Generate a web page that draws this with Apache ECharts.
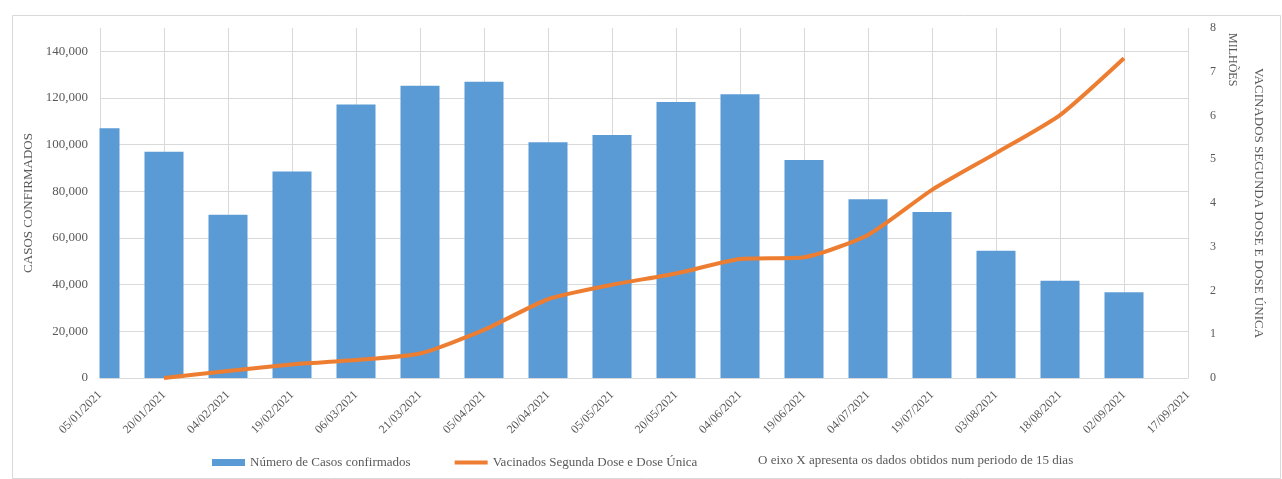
<!DOCTYPE html>
<html>
<head>
<meta charset="utf-8">
<script src="https://cdn.jsdelivr.net/npm/echarts@6/dist/echarts.min.js"></script>
<style>
html,body{margin:0;padding:0;background:#fff;}
#chart{width:1282px;height:479px;}
</style>
</head>
<body>
<div id="chart"></div>
<script>
const categories = ['05/01/2021','20/01/2021','04/02/2021','19/02/2021','06/03/2021','21/03/2021','05/04/2021','20/04/2021','05/05/2021','20/05/2021','04/06/2021','19/06/2021','04/07/2021','19/07/2021','03/08/2021','18/08/2021','02/09/2021','17/09/2021'];
const casosConfirmados = [107000, 97000, 70000, 88500, 117200, 125300, 127000, 101000, 104100, 118300, 121600, 93400, 76600, 71100, 54500, 41700, 36700, null];
const vacinadosMilhoes = [null, 0, 0.16, 0.31, 0.41, 0.56, 1.1, 1.8, 2.13, 2.39, 2.72, 2.76, 3.27, 4.3, 5.14, 6.01, 7.31, null];
const leftTicks = {min: 0, max: 150000, interval: 20000};
const rightTicks = {min: 0, max: 8, interval: 1};
const nameCasos = 'Número de Casos confirmados';
const nameVac = 'Vacinados Segunda Dose e Dose Única';
const noteText = 'O eixo X apresenta os dados obtidos num periodo de 15 dias';

const FONT = '"Liberation Serif", "Times New Roman", serif';
const GRAY = '#595959';
const GRID = '#d9d9d9';
const GRID_LEFT = 100, GRID_RIGHT = 94, GRID_TOP = 28, GRID_BOTTOM = 101;

const chart = echarts.init(document.getElementById('chart'), null, {renderer: 'canvas'});
chart.setOption({
  animation: false,
  backgroundColor: '#fff',
  textStyle: {fontFamily: FONT, color: GRAY},
  grid: {left: GRID_LEFT, right: GRID_RIGHT, top: GRID_TOP, bottom: GRID_BOTTOM, containLabel: false},
  legend: {
    left: 207, top: 451,
    itemWidth: 33, itemHeight: 7, itemGap: 42,
    textStyle: {fontFamily: FONT, fontSize: 13, color: GRAY},
    data: [
      {name: nameCasos, icon: 'rect'},
      {name: nameVac, itemStyle: {opacity: 0}, lineStyle: {width: 4}}
    ]
  },
  graphic: [
    {type: 'rect', left: 10, top: 13, z: -10, silent: true,
     shape: {width: 1268, height: 463}, style: {fill: 'none', stroke: '#d9d9d9', lineWidth: 1}},
    // mask for the part of the first bar that lies outside the plot area (Excel clips it)
    {type: 'rect', x: 50, y: GRID_TOP, z: 5, silent: true,
     shape: {width: GRID_LEFT - 50 - 0.5, height: 479 - GRID_BOTTOM - GRID_TOP + 0.5},
     style: {fill: '#fff'}},
    {type: 'text', left: 758, top: 454, z: 6, style: {text: noteText, font: '13px ' + FONT, fill: GRAY}},
    {type: 'text', x: 1238, y: 33, rotation: -Math.PI / 2, z: 6,
     style: {text: 'MILHÕES', font: '12px ' + FONT, fill: GRAY}}
  ],
  xAxis: {
    type: 'category',
    data: categories,
    boundaryGap: false,
    axisLine: {show: true, lineStyle: {color: GRID}},
    axisTick: {show: false},
    axisLabel: {rotate: 45, fontSize: 12, color: GRAY, fontFamily: FONT, margin: 15, interval: 0},
    splitLine: {show: true, lineStyle: {color: GRID, width: 1}}
  },
  yAxis: [
    {
      type: 'value', z: 10,
      min: leftTicks.min, max: leftTicks.max, interval: leftTicks.interval,
      name: 'CASOS CONFIRMADOS',
      nameLocation: 'middle', nameRotate: 90, nameGap: 54,
      nameTextStyle: {fontSize: 13, color: GRAY, fontFamily: FONT},
      axisLine: {show: false}, axisTick: {show: false},
      axisLabel: {
        fontSize: 13, color: GRAY, fontFamily: FONT, margin: 12, showMaxLabel: false,
        formatter: v => v === 0 ? '0' : v.toLocaleString('en-US')
      },
      splitLine: {show: false}
    },
    {
      type: 'value', z: 10,
      min: rightTicks.min, max: rightTicks.max, interval: rightTicks.interval,
      name: 'VACINADOS SEGUNDA DOSE E DOSE ÚNICA',
      nameLocation: 'middle', nameRotate: -90, nameGap: 64,
      nameTextStyle: {fontSize: 13, color: GRAY, fontFamily: FONT},
      axisLine: {show: false}, axisTick: {show: false},
      axisLabel: {fontSize: 12, color: GRAY, fontFamily: FONT, margin: 22},
      splitLine: {show: false}
    },
    {
      // gridlines of the left axis, drawn behind the bars
      type: 'value', position: 'left', z: 0,
      min: leftTicks.min, max: leftTicks.max, interval: leftTicks.interval,
      axisLine: {show: false}, axisTick: {show: false}, axisLabel: {show: false},
      splitLine: {show: true, lineStyle: {color: [GRID, GRID, GRID, GRID, GRID, GRID, GRID, GRID, 'rgba(0,0,0,0)'], width: 1}}
    }
  ],
  series: [
    {
      name: nameCasos,
      type: 'bar',
      yAxisIndex: 0,
      data: casosConfirmados,
      barWidth: 39,
      itemStyle: {color: '#5B9BD5'},
      z: 2
    },
    {
      name: nameVac,
      type: 'line',
      yAxisIndex: 1,
      data: vacinadosMilhoes,
      smooth: 0.2,
      showSymbol: false,
      lineStyle: {color: '#ED7D31', width: 4},
      itemStyle: {color: '#ED7D31'},
      z: 3
    }
  ]
});
</script>
</body>
</html>
